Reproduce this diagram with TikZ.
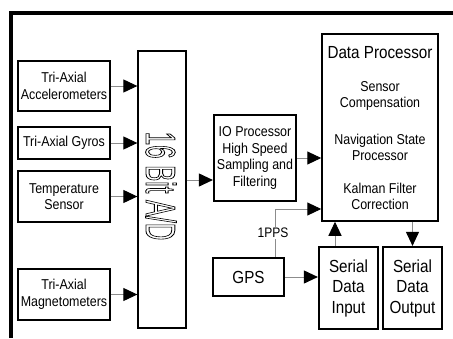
\documentclass[tikz,border=0pt]{standalone}
\usepackage{fontspec}
\setmainfont{Liberation Sans}[FakeStretch=0.87]
\usepackage{graphicx}
\usepackage{tikz}
\usetikzlibrary{arrows.meta}
\tikzset{
  box/.style={draw=black,line width=1.5pt,inner sep=0pt,align=center,font=\fontsize{14.3}{16.5}\selectfont},
  thickbox/.style={box,line width=2.2pt},
  txt/.style={inner sep=0pt,align=center,font=\fontsize{14.3}{16.5}\selectfont},
  bigtxt/.style={font=\fontsize{17.5}{20.5}\selectfont},
  conn/.style={draw=black!45,line width=1pt,-{Triangle[length=14pt,width=13pt,color=black]}},
}
\newcommand{\hollowtext}[1]{\special{pdf:literal direct 1 Tr 0.9 w}#1\special{pdf:literal direct 0 Tr}}

\begin{document}
\begin{tikzpicture}[x=1pt,y=1pt,yscale=-1]
\useasboundingbox (0,0) rectangle (453,338);
\draw[line width=4pt] (10.5,338) -- (10.5,13) -- (453,13);
%Sensors
\node[box,minimum width=92pt,minimum height=50pt] (acc) at (64,86) {Tri-Axial\\Accelerometers};
\node[box,minimum width=92pt,minimum height=32pt] (gyro) at (64,143) {Tri-Axial Gyros};
\node[box,minimum width=92pt,minimum height=51pt] (temp) at (64,196.5) {Temperature\\Sensor};
\node[box,minimum width=92pt,minimum height=51pt] (mag) at (64,294.5) {Tri-Axial\\Magnetometers};
%AD
\node[box,line width=1.3pt,minimum width=48pt,minimum height=277pt] (ad) at (162,189.5) {};
\node[rotate=-90,inner sep=0pt] (adtxt) at (161,186) {\scalebox{0.66}[1]{\fontsize{42}{42}\selectfont\hollowtext{16 Bit A/D}}};
%Processors
\node[thickbox,minimum width=82pt,minimum height=86pt] (io) at (255,158) {IO Processor\\High Speed\\Sampling and\\Filtering};
\node[box,minimum width=116pt,minimum height=187pt] (dp) at (380,127.5) {};
\node[txt,bigtxt] (dptitle) at (380,53) {Data Processor};
\node[txt] (comp) at (380,96) {Sensor\\Compensation};
\node[txt] (nav) at (380,147.5) {Navigation State\\Processor};
\node[txt] (kal) at (380,196.5) {Kalman Filter\\Correction};
%GPS and serial
\node[thickbox,bigtxt,minimum width=71pt,minimum height=38pt] (gps) at (248.5,277) {GPS};
\node[thickbox,bigtxt,minimum width=59pt,minimum height=82pt] (sdi) at (348.5,288) {Serial\\Data\\Input};
\node[thickbox,bigtxt,minimum width=59pt,minimum height=82pt] (sdo) at (412.5,288) {Serial\\Data\\Output};
%Connectors
\draw[conn] (acc.east) -- (acc.east -| ad.west);
\draw[conn] (gyro.east) -- (gyro.east -| ad.west);
\draw[conn] (temp.east) -- (temp.east -| ad.west);
\draw[conn] (mag.east) -- (mag.east -| ad.west);
\coordinate (adout) at (186,180);
\draw[conn] (adout -| ad.east) -- (adout -| io.west);
\draw[conn] (io.east) -- (io.east -| dp.west);
\coordinate (ppsbend) at (275,209);
\draw[conn] (gps.north -| ppsbend) -- (ppsbend) -- (ppsbend -| dp.west);
\node[fill=white,inner sep=1.5pt,font=\fontsize{13.8}{14}\selectfont] (pps) at (273,233) {1PPS};
\draw[conn] (gps.east) -- (gps.east -| sdi.west);
\coordinate (upx) at (335,0);
\draw[conn] (sdi.north -| upx) -- (dp.south -| upx);
\draw[conn] (dp.south -| sdo.north) -- (sdo.north);
\end{tikzpicture}
\end{document}
